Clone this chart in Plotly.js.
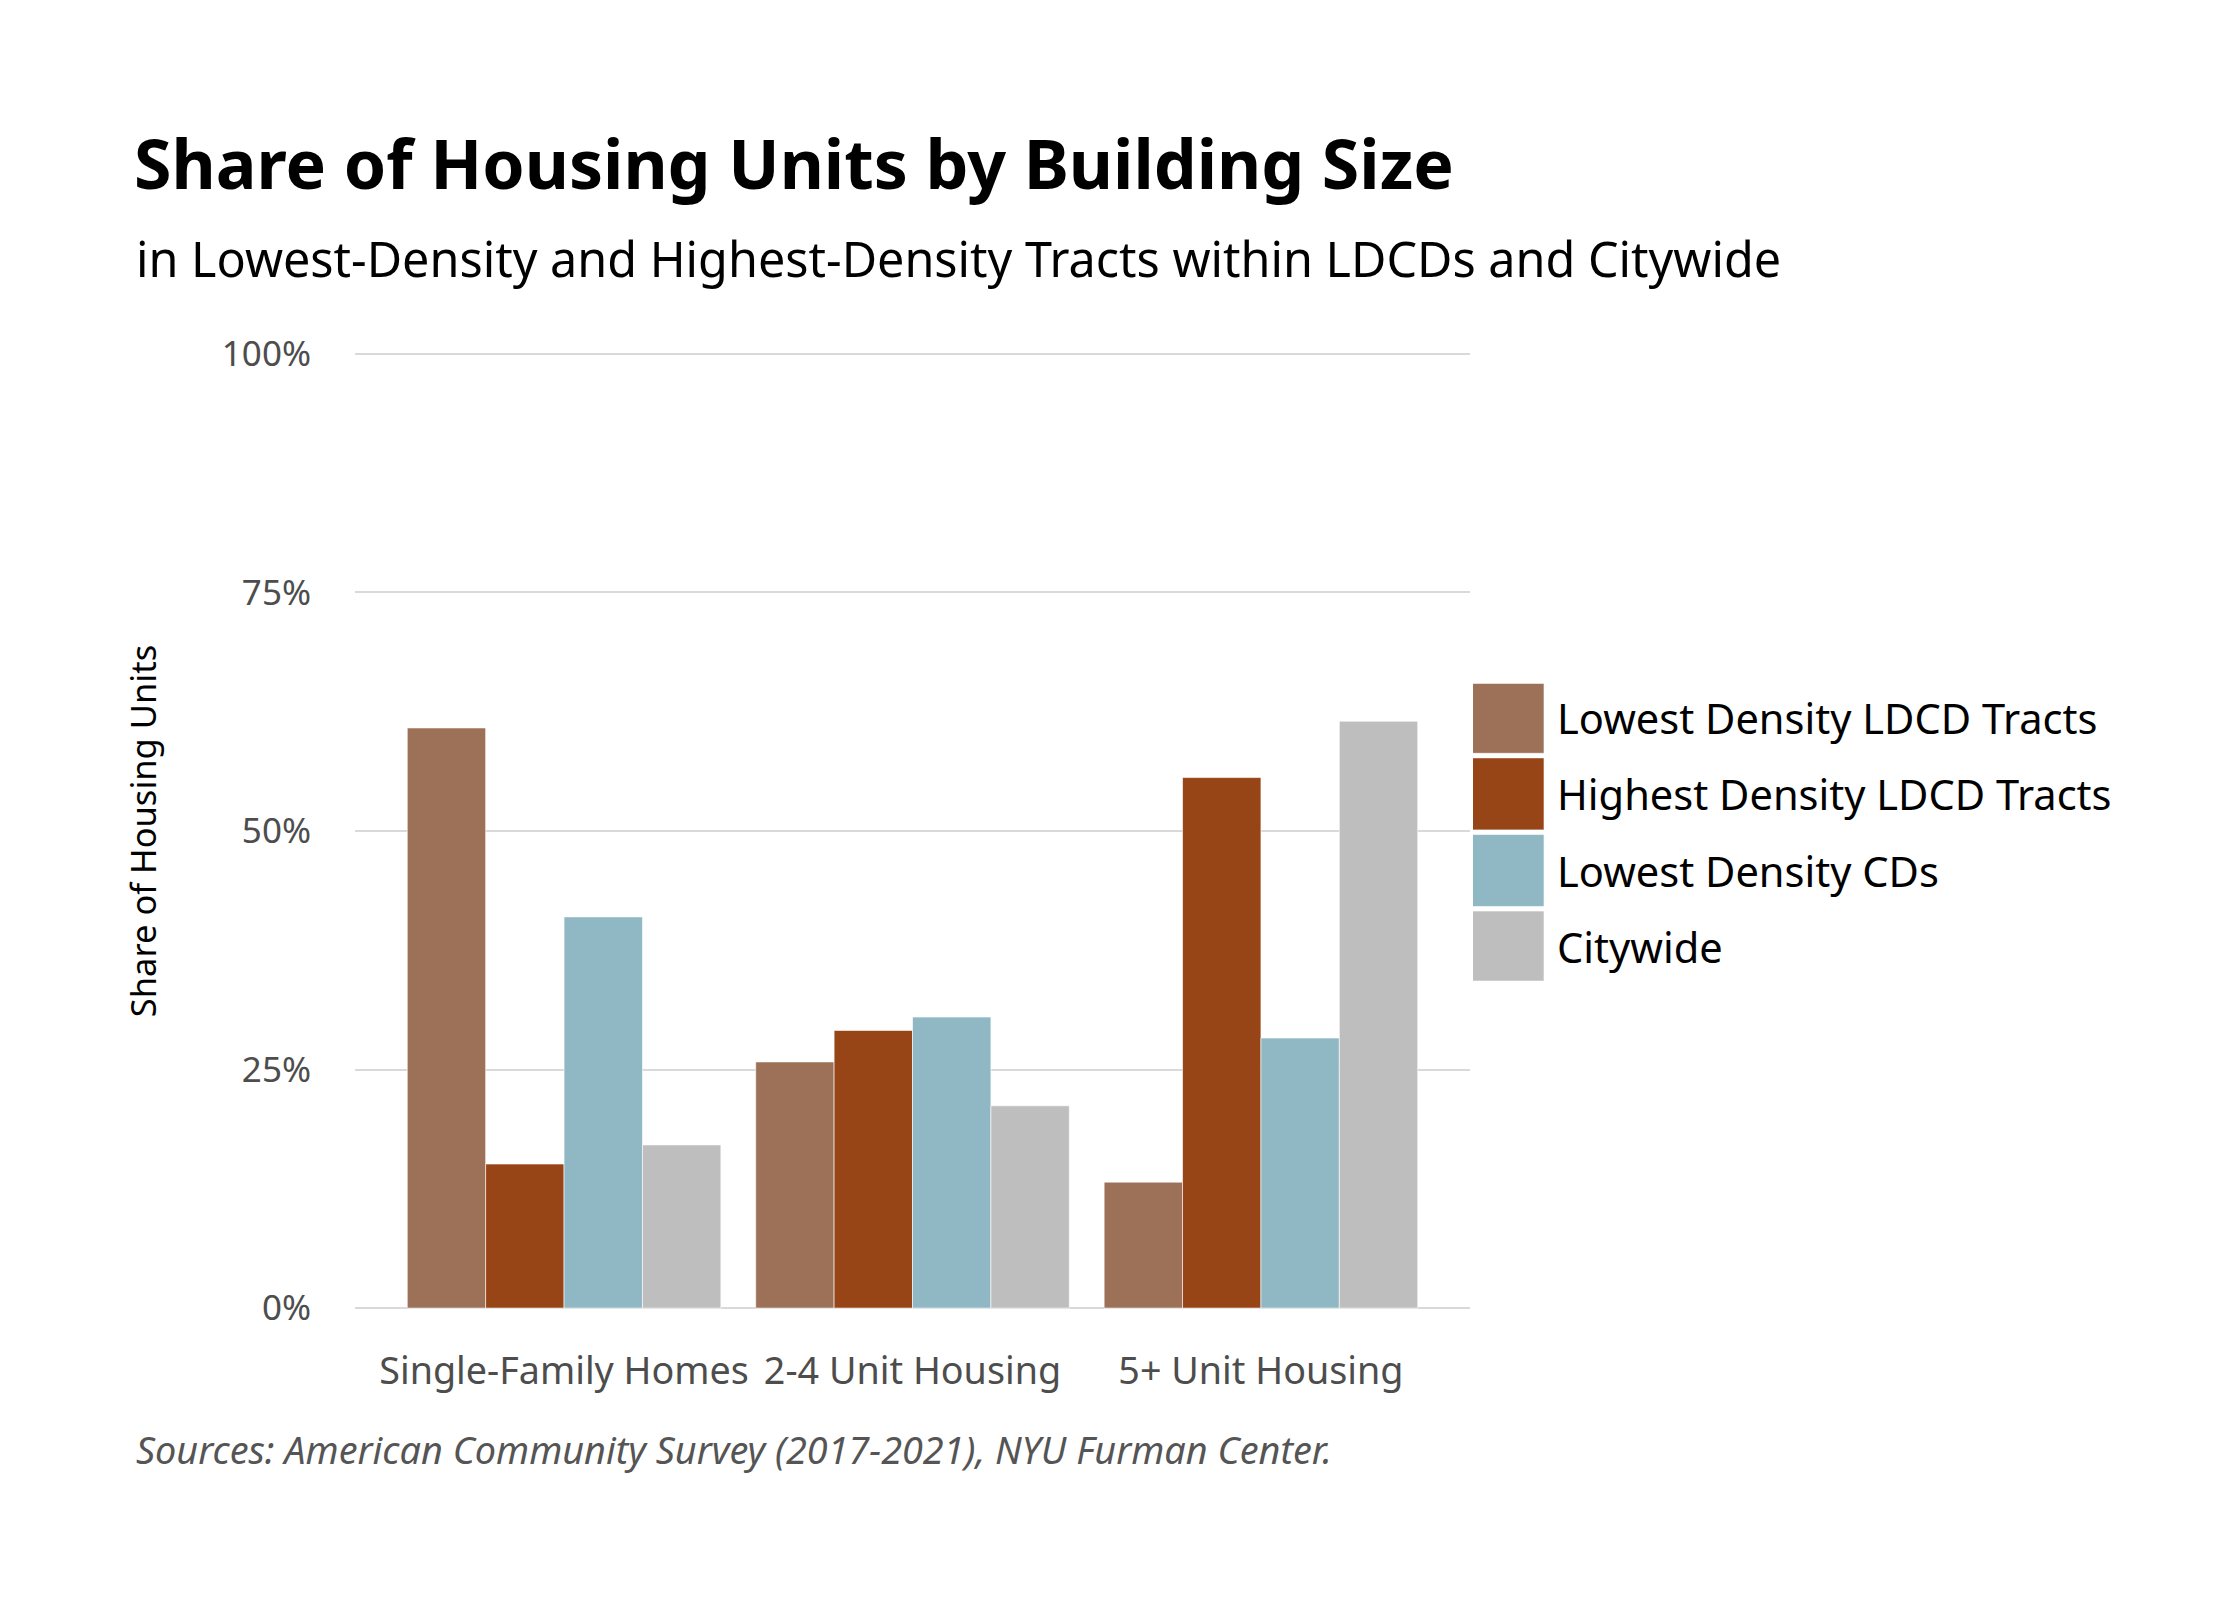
<!DOCTYPE html>
<html>
<head>
<meta charset="utf-8">
<script src="https://cdn.plot.ly/plotly-3.0.1.min.js"></script>
<style>
  body { margin: 0; background: #fff; }
  #chart { width: 2240px; height: 1600px; }
</style>
</head>
<body>
<div id="chart"></div>
<script>
// categories along the x axis
var categories = ['Single-Family Homes', '2-4 Unit Housing', '5+ Unit Housing'];

// series names (legend order)
var seriesNames = ['Lowest Density LDCD Tracts', 'Highest Density LDCD Tracts', 'Lowest Density CDs', 'Citywide'];

// share of housing units
var lowestLdcd = [0.608, 0.258, 0.132];
var highestLdcd = [0.151, 0.291, 0.556];
var lowestCds = [0.410, 0.305, 0.283];
var citywide = [0.171, 0.212, 0.615];

var yTicks = [0, 0.25, 0.5, 0.75, 1];
var yTickText = ['0%', '25%', '50%', '75%', '100%'];

var colors = ['#9c7157', '#974416', '#8fb7c4', '#bebebe'];
var font = '"Noto Sans", Lato, sans-serif';

var allSeries = [lowestLdcd, highestLdcd, lowestCds, citywide];

var traces = allSeries.map(function (vals, i) {
    return {
        type: 'bar',
        x: categories,
        y: vals,
        name: seriesNames[i],
        legendgroup: 'g' + i,
        marker: {
            color: colors[i],
            line: { color: 'rgba(255,255,255,0.6)', width: 1 }
        },
        hoverinfo: 'skip'
    };
});

var layout = {
    width: 2240,
    height: 1600,
    margin: { l: 355, r: 770, t: 352, b: 290, pad: 0 },
    paper_bgcolor: '#fff',
    plot_bgcolor: '#fff',
    barmode: 'group',
    bargap: 0.1,
    bargroupgap: 0,
    font: { family: font, color: '#000' },
    title: {
        text: '<b>Share of Housing Units by Building Size</b>',
        font: { family: font, size: 68, color: '#000' },
        x: 134 / 2240,
        xanchor: 'left',
        xref: 'container',
        y: 1 - 165 / 1600,
        yanchor: 'middle',
        yref: 'container'
    },
    xaxis: {
        type: 'category',
        range: [-0.6, 2.6],
        showgrid: false,
        zeroline: false,
        showline: false,
        ticks: '',
        ticklabelstandoff: 35,
        tickfont: { family: font, size: 37.7, color: '#4d4d4d' },
        fixedrange: true
    },
    yaxis: {
        range: [-0.002, 1.002],
        tickvals: yTicks,
        ticktext: yTickText,
        showgrid: true,
        gridcolor: '#d9d9d9',
        gridwidth: 2,
        zeroline: false,
        showline: false,
        ticks: '',
        ticklabelstandoff: 43,
        tickfont: { family: font, size: 35, color: '#4d4d4d' },
        title: {
            text: 'Share of Housing Units',
            font: { family: font, size: 34.5, color: '#000' },
            standoff: 54
        },
        fixedrange: true
    },
    showlegend: true,
    legend: {
        x: 1.0027,
        xanchor: 'left',
        y: 0.6537,
        yanchor: 'top',
        traceorder: 'grouped',
        tracegroupgap: 19.5,
        itemwidth: 74,
        font: { family: font, size: 41.6, color: '#000' },
        bgcolor: 'rgba(0,0,0,0)',
        borderwidth: 0
    },
    annotations: [
        {
            text: 'in Lowest-Density and Highest-Density Tracts within LDCDs and Citywide',
            xref: 'paper', yref: 'paper',
            x: (134 - 355) / 1115, xanchor: 'left',
            y: (1310 - 258) / 958, yanchor: 'middle',
            showarrow: false,
            font: { family: font, size: 48.5, color: '#000' }
        },
        {
            text: '<i>Sources: American Community Survey (2017-2021), NYU Furman Center.</i>',
            xref: 'paper', yref: 'paper',
            x: (134 - 355) / 1115, xanchor: 'left',
            y: (1310 - 1449) / 958, yanchor: 'middle',
            showarrow: false,
            font: { family: font, size: 37.8, color: '#555555' }
        }
    ]
};

Plotly.newPlot('chart', traces, layout, { displayModeBar: false, staticPlot: true }).then(function (gd) {
    // ggplot-style big square keys in the legend
    var pts = gd.querySelectorAll('.legend .legendpoints path');
    pts.forEach(function (p) {
        p.setAttribute('d', 'M29,36H-47V-36H29Z');
    });
});
</script>
</body>
</html>
